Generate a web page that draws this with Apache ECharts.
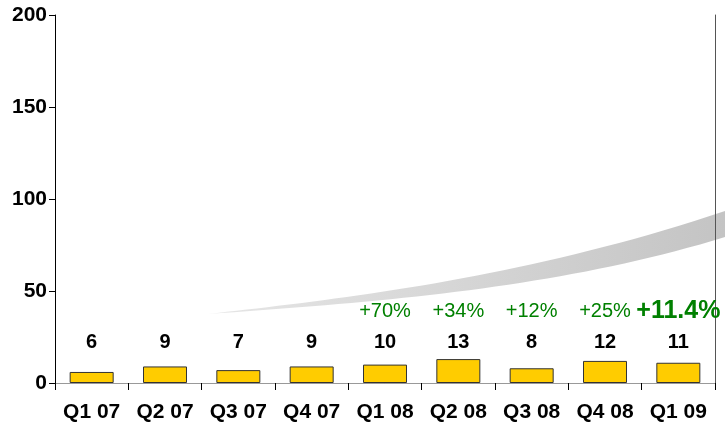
<!DOCTYPE html>
<html>
<head>
<meta charset="utf-8">
<script src="https://cdn.jsdelivr.net/npm/echarts@6/dist/echarts.min.js"></script>
<style>
  html, body { margin: 0; padding: 0; background: #fff; }
  #main { width: 725px; height: 427px; }
</style>
</head>
<body>
<div id="main"></div>
<script>
// quarters and values
var quarters = ['Q1 07', 'Q2 07', 'Q3 07', 'Q4 07', 'Q1 08', 'Q2 08', 'Q3 08', 'Q4 08', 'Q1 09'];
var values = [6, 9, 7, 9, 10, 13, 8, 12, 11];
var growth = ['', '', '', '', '+70%', '+34%', '+12%', '+25%', '+11.4%'];
var yTicks = [0, 50, 100, 150, 200];

// label rows sit at a fixed height, not on top of each bar
var valueRow = 22;
var growthRow = 38.8;

var chart = echarts.init(document.getElementById('main'));

// decorative swoosh: sample two cubic curves into one polygon
function cubic(p0, p1, p2, p3, n) {
    var pts = [];
    for (var k = 0; k <= n; k++) {
        var t = k / n, u = 1 - t;
        pts.push([
            u*u*u*p0[0] + 3*u*u*t*p1[0] + 3*u*t*t*p2[0] + t*t*t*p3[0],
            u*u*u*p0[1] + 3*u*u*t*p1[1] + 3*u*t*t*p2[1] + t*t*t*p3[1]
        ]);
    }
    return pts;
}
var swoosh = cubic([208, 314], [330, 300], [520, 280], [725, 211], 40)
    .concat(cubic([725, 237], [560, 288], [380, 302], [208, 314], 40));

var growthData = growth.map(function (g, i) {
    var item = { value: [quarters[i], growthRow], label: { formatter: g } };
    if (i === growth.length - 1) {
        item.label.fontWeight = 'bold';
        item.label.fontSize = 25;
    }
    return item;
});

var font = 'Liberation Sans, Arial, sans-serif';

var option = {
    animation: false,
    backgroundColor: '#fff',
    grid: { left: 55, right: 10, top: 15, bottom: 44 },
    xAxis: [{
        type: 'category',
        data: quarters,
        axisLine: { lineStyle: { color: '#000', width: 1 } },
        axisTick: { show: true, interval: 0, length: 7, lineStyle: { color: '#000' } },
        axisLabel: {
            interval: 0, hideOverlap: false,
            color: '#000', fontWeight: 'bold', fontSize: 21,
            fontFamily: font, margin: 19
        }
    }, {
        type: 'category',
        position: 'top',
        data: quarters,
        axisLine: { lineStyle: { color: '#999', width: 1 } },
        axisTick: { show: false },
        axisLabel: { show: false }
    }],
    yAxis: [{
        type: 'value',
        min: yTicks[0],
        max: yTicks[yTicks.length - 1],
        interval: 50,
        axisLine: { show: true, lineStyle: { color: '#000', width: 1 } },
        axisTick: { show: true, length: 6, lineStyle: { color: '#000' } },
        splitLine: { show: false },
        axisLabel: {
            color: '#000', fontWeight: 'bold', fontSize: 21,
            fontFamily: font, margin: 8
        }
    }, {
        type: 'value',
        position: 'right',
        min: yTicks[0],
        max: yTicks[yTicks.length - 1],
        axisLine: { show: true, lineStyle: { color: '#555', width: 1 } },
        axisTick: { show: false },
        axisLabel: { show: false },
        splitLine: { show: false }
    }],
    graphic: [{
        type: 'polygon',
        z: 0,
        shape: { points: swoosh },
        style: {
            fill: {
                type: 'linear', x: 0, y: 0, x2: 1, y2: 0,
                colorStops: [
                    { offset: 0, color: '#e6e6e6' },
                    { offset: 1, color: '#c4c4c4' }
                ]
            }
        }
    }],
    series: [{
        type: 'bar',
        data: values,
        barWidth: '60%',
        itemStyle: { color: '#FFCC00', borderColor: '#333', borderWidth: 1 },
        z: 3
    }, {
        type: 'scatter',
        symbolSize: 0,
        itemStyle: { opacity: 1 },
        data: values.map(function (v, i) { return [quarters[i], valueRow, v]; }),
        label: {
            show: true, position: 'inside',
            formatter: function (p) { return p.value[2]; },
            color: '#000', fontWeight: 'bold', fontSize: 20,
            fontFamily: font
        },
        z: 4
    }, {
        type: 'scatter',
        symbolSize: 0,
        itemStyle: { opacity: 1 },
        data: growthData,
        label: {
            show: true, position: 'inside',
            color: '#008000', fontSize: 20,
            fontFamily: font
        },
        z: 4
    }]
};

chart.setOption(option);
</script>
</body>
</html>
